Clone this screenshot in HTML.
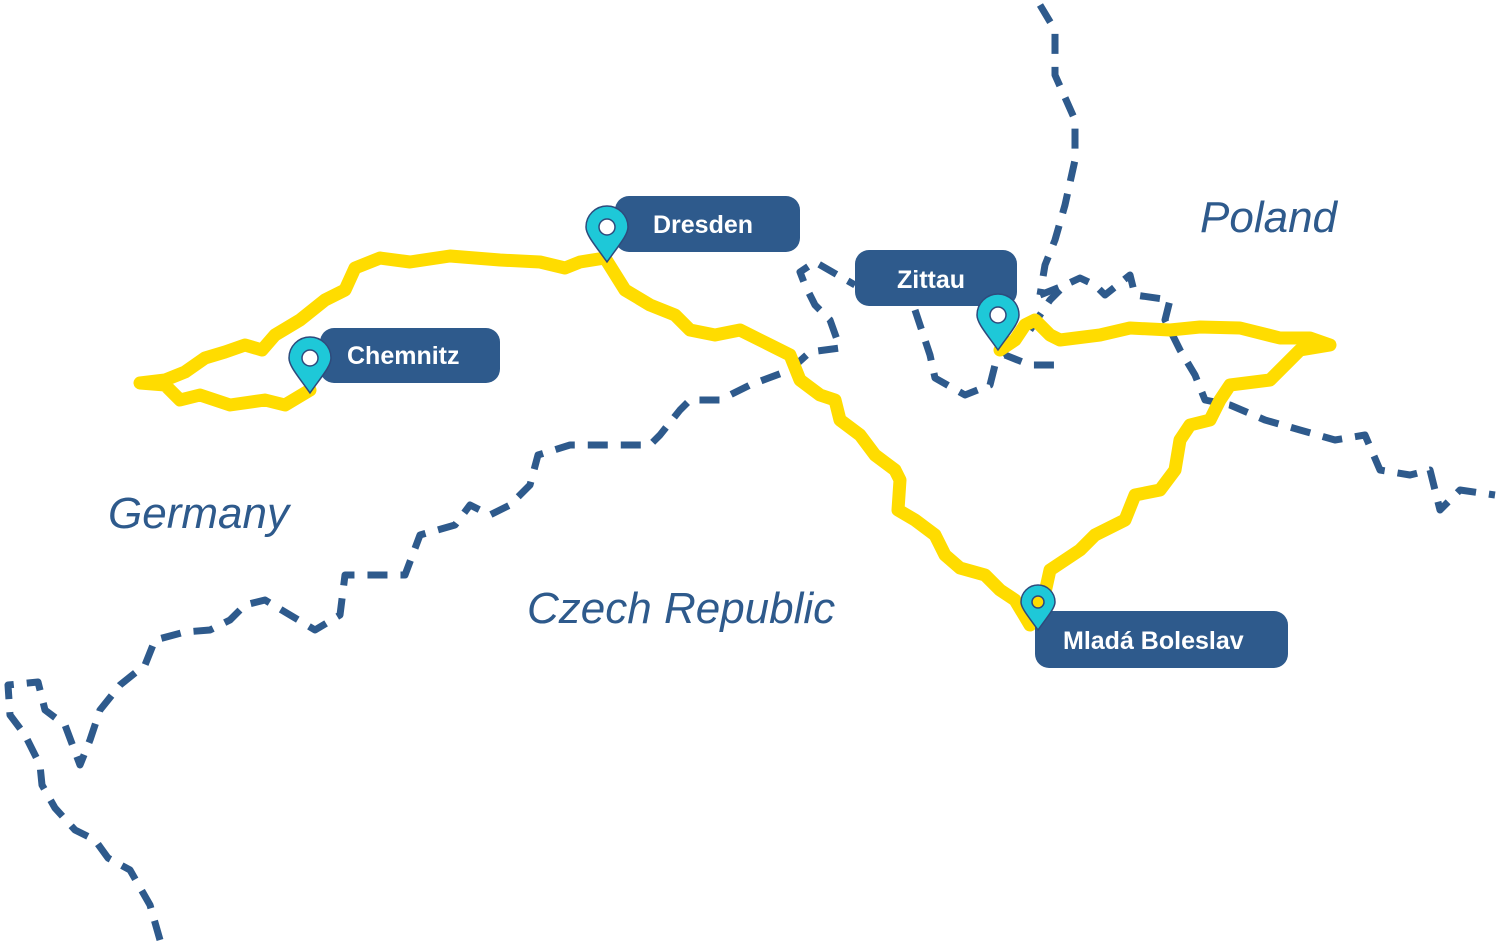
<!DOCTYPE html>
<html><head><meta charset="utf-8"><style>
html,body{margin:0;padding:0;background:#fff;}
svg{display:block}
.lbl{font-family:"Liberation Sans",sans-serif;font-style:italic;font-size:44px;fill:#2e5a8c}
.bt{font-family:"Liberation Sans",sans-serif;font-weight:bold;font-size:25px;fill:#fff}
</style></head><body>
<svg width="1500" height="947" viewBox="0 0 1500 947" xmlns="http://www.w3.org/2000/svg">
<g fill="none" stroke="#2e5a8c" stroke-width="7" stroke-dasharray="20 13" stroke-linejoin="round">
<polyline points="160,940 150,905 130,870 108,858 95,840 75,830 55,808 42,785 40,765 25,735 10,715 8,685 38,682 45,710 65,725 80,765 90,740 100,710 120,685 145,665 155,640 185,632 210,630 230,620 245,605 265,600 285,612 315,630 340,615 345,575 375,575 405,575 420,535 455,525 470,505 490,515 510,505 530,485 538,455 570,445 605,445 650,445 660,435 680,410 690,400 720,400 750,385 790,370 810,352 840,348 830,320 815,305 805,285 800,272 815,262 855,285"/>
<polyline points="915,310 930,355 935,378 965,395 990,385 995,365 1005,355 1030,365 1055,365"/>
<polyline points="1040,5 1055,30 1055,75 1075,120 1075,160 1065,205 1055,240 1045,265 1040,295"/>
<polyline points="1040,295 1065,285 1080,278 1095,285 1105,295 1130,275 1135,295 1170,300 1165,320 1180,350 1195,375 1205,400 1230,405 1265,420 1300,430 1335,440 1365,435 1380,470 1410,475 1430,470 1440,510 1460,490 1495,495"/>
<polyline points="1030,330 1050,300 1060,290"/>
</g>
<g fill="none" stroke="#ffdc00" stroke-width="13" stroke-linejoin="round" stroke-linecap="round">
<polyline points="605,258 580,262 565,268 540,262 500,260 450,256 410,262 380,258 355,268 345,290 325,300 300,320 275,335 262,350 245,345 225,352 205,358 185,372 165,380 140,383 165,385 180,400 200,395 230,405 265,400 285,405 310,390"/>
<polyline points="605,258 625,290 650,305 675,315 690,330 715,335 740,330 770,345 790,355 800,380 820,395 835,400 840,420 860,435 875,455 895,470 900,480 898,510 915,520 935,535 945,555 960,568 985,575 1000,590 1015,600 1030,625"/>
<polyline points="1040,615 1050,570 1080,550 1095,535 1125,520 1135,495 1160,490 1175,470 1180,440 1190,425 1210,420 1220,400 1230,385 1270,380 1285,365 1300,350 1330,345 1310,338 1280,338 1240,328 1200,327 1170,330 1130,328 1100,335 1060,340 1050,335 1035,320 1025,325 1015,340 1000,350"/>
</g>
<text class="lbl" x="1200" y="232">Poland</text>
<text class="lbl" x="108" y="528">Germany</text>
<text class="lbl" x="527" y="623">Czech Republic</text>
<g fill="#2e5a8c">
<rect x="615" y="196" width="185" height="56" rx="14"/>
<rect x="320" y="328" width="180" height="55" rx="14"/>
<rect x="855" y="250" width="162" height="56" rx="14"/>
<rect x="1035" y="611" width="253" height="57" rx="14"/>
</g>
<text class="bt" x="653" y="233">Dresden</text>
<text class="bt" x="347" y="364">Chemnitz</text>
<text class="bt" x="897" y="288">Zittau</text>
<text class="bt" x="1063" y="649">Mladá Boleslav</text>
<g stroke="#2e4a7c" stroke-width="1.5" fill="#1ec8d8">
<path d="M607,262 C595,245 586,235 586,227 A21,21 0 1 1 628,227 C628,235 619,245 607,262Z"/>
<path d="M310,393 C298,376 289,366 289,358 A21,21 0 1 1 331,358 C331,366 322,376 310,393Z"/>
<path d="M998,350 C986,333 977,323 977,315 A21,21 0 1 1 1019,315 C1019,323 1010,333 998,350Z"/>
<path d="M1038,630 C1028,616 1021,608 1021,602 A17,17 0 1 1 1055,602 C1055,608 1048,616 1038,630Z"/>
</g>
<g stroke="#2e4a7c" stroke-width="1.5" fill="#fff">
<circle cx="607" cy="227" r="8"/>
<circle cx="310" cy="358" r="8"/>
<circle cx="998" cy="315" r="8"/>
</g>
<circle cx="1038" cy="602" r="6" fill="#ffdc00" stroke="#2e4a7c" stroke-width="1.5"/>
</svg>
</body></html>
